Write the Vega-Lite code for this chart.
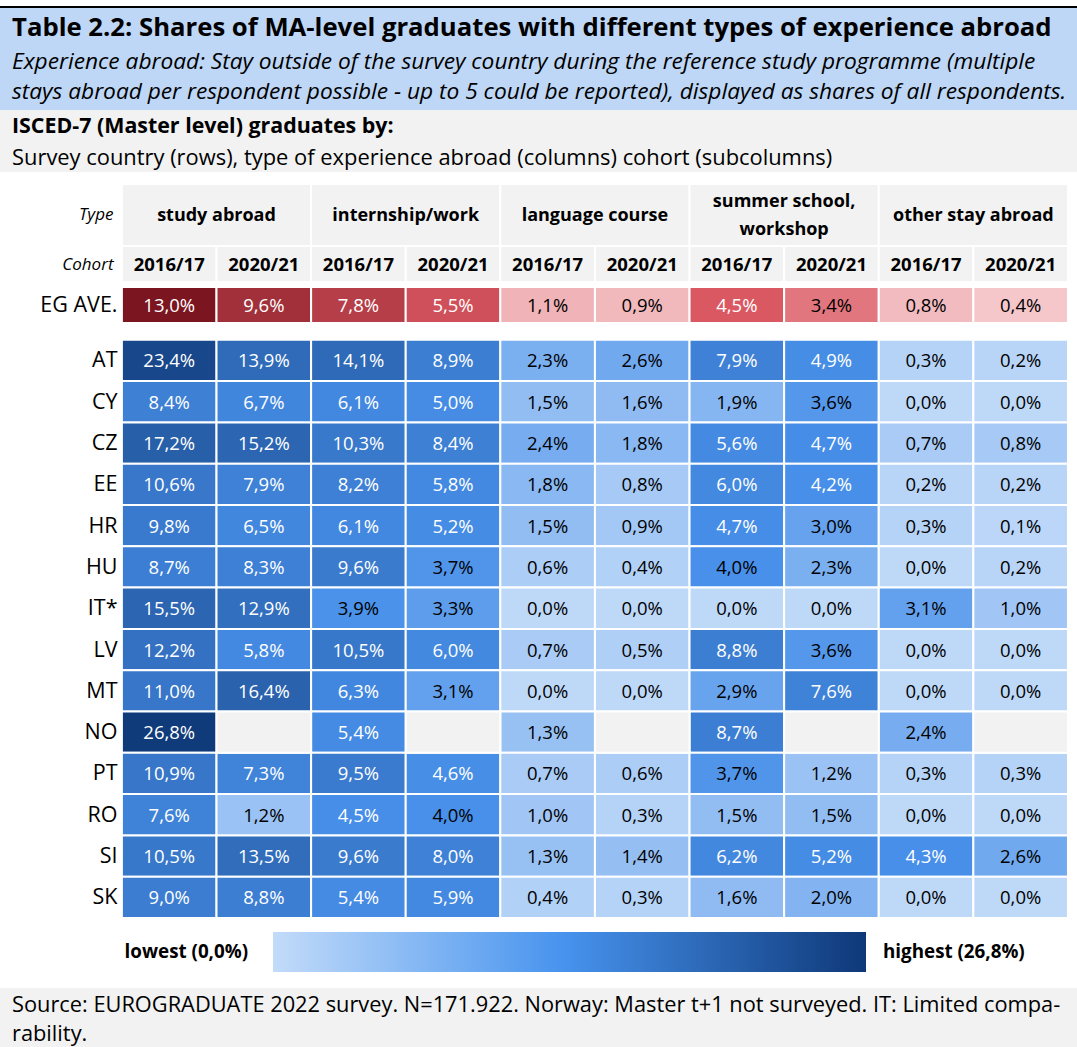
{
  "$schema": "https://vega.github.io/schema/vega-lite/v6.json",
  "padding": 0,
  "background": "white",
  "spacing": 0,
  "bounds": "flush",
  "config": {
    "view": {"stroke": null},
    "font": "Open Sans",
    "locale": {"number": {"decimal": ",", "thousands": ".", "grouping": [3], "currency": ["", "€"]}}
  },
  "resolve": {"scale": {"x": "independent", "y": "independent", "color": "independent", "fill": "independent", "xOffset": "independent"}},
  "datasets": {
    "eg": [
      {"c":"EG AVE.","t":"study abroad","k":"2016/17","v":0.130},{"c":"EG AVE.","t":"study abroad","k":"2020/21","v":0.096},
      {"c":"EG AVE.","t":"internship/work","k":"2016/17","v":0.078},{"c":"EG AVE.","t":"internship/work","k":"2020/21","v":0.055},
      {"c":"EG AVE.","t":"language course","k":"2016/17","v":0.011},{"c":"EG AVE.","t":"language course","k":"2020/21","v":0.009},
      {"c":"EG AVE.","t":"summer school, workshop","k":"2016/17","v":0.045},{"c":"EG AVE.","t":"summer school, workshop","k":"2020/21","v":0.034},
      {"c":"EG AVE.","t":"other stay abroad","k":"2016/17","v":0.008},{"c":"EG AVE.","t":"other stay abroad","k":"2020/21","v":0.004}
    ],
    "countries": [
      {"c":"AT","t":"study abroad","k":"2016/17","v":0.234},{"c":"AT","t":"study abroad","k":"2020/21","v":0.139},{"c":"AT","t":"internship/work","k":"2016/17","v":0.141},{"c":"AT","t":"internship/work","k":"2020/21","v":0.089},{"c":"AT","t":"language course","k":"2016/17","v":0.023},{"c":"AT","t":"language course","k":"2020/21","v":0.026},{"c":"AT","t":"summer school, workshop","k":"2016/17","v":0.079},{"c":"AT","t":"summer school, workshop","k":"2020/21","v":0.049},{"c":"AT","t":"other stay abroad","k":"2016/17","v":0.003},{"c":"AT","t":"other stay abroad","k":"2020/21","v":0.002},
      {"c":"CY","t":"study abroad","k":"2016/17","v":0.084},{"c":"CY","t":"study abroad","k":"2020/21","v":0.067},{"c":"CY","t":"internship/work","k":"2016/17","v":0.061},{"c":"CY","t":"internship/work","k":"2020/21","v":0.050},{"c":"CY","t":"language course","k":"2016/17","v":0.015},{"c":"CY","t":"language course","k":"2020/21","v":0.016},{"c":"CY","t":"summer school, workshop","k":"2016/17","v":0.019},{"c":"CY","t":"summer school, workshop","k":"2020/21","v":0.036},{"c":"CY","t":"other stay abroad","k":"2016/17","v":0.000},{"c":"CY","t":"other stay abroad","k":"2020/21","v":0.000},
      {"c":"CZ","t":"study abroad","k":"2016/17","v":0.172},{"c":"CZ","t":"study abroad","k":"2020/21","v":0.152},{"c":"CZ","t":"internship/work","k":"2016/17","v":0.103},{"c":"CZ","t":"internship/work","k":"2020/21","v":0.084},{"c":"CZ","t":"language course","k":"2016/17","v":0.024},{"c":"CZ","t":"language course","k":"2020/21","v":0.018},{"c":"CZ","t":"summer school, workshop","k":"2016/17","v":0.056},{"c":"CZ","t":"summer school, workshop","k":"2020/21","v":0.047},{"c":"CZ","t":"other stay abroad","k":"2016/17","v":0.007},{"c":"CZ","t":"other stay abroad","k":"2020/21","v":0.008},
      {"c":"EE","t":"study abroad","k":"2016/17","v":0.106},{"c":"EE","t":"study abroad","k":"2020/21","v":0.079},{"c":"EE","t":"internship/work","k":"2016/17","v":0.082},{"c":"EE","t":"internship/work","k":"2020/21","v":0.058},{"c":"EE","t":"language course","k":"2016/17","v":0.018},{"c":"EE","t":"language course","k":"2020/21","v":0.008},{"c":"EE","t":"summer school, workshop","k":"2016/17","v":0.060},{"c":"EE","t":"summer school, workshop","k":"2020/21","v":0.042},{"c":"EE","t":"other stay abroad","k":"2016/17","v":0.002},{"c":"EE","t":"other stay abroad","k":"2020/21","v":0.002},
      {"c":"HR","t":"study abroad","k":"2016/17","v":0.098},{"c":"HR","t":"study abroad","k":"2020/21","v":0.065},{"c":"HR","t":"internship/work","k":"2016/17","v":0.061},{"c":"HR","t":"internship/work","k":"2020/21","v":0.052},{"c":"HR","t":"language course","k":"2016/17","v":0.015},{"c":"HR","t":"language course","k":"2020/21","v":0.009},{"c":"HR","t":"summer school, workshop","k":"2016/17","v":0.047},{"c":"HR","t":"summer school, workshop","k":"2020/21","v":0.030},{"c":"HR","t":"other stay abroad","k":"2016/17","v":0.003},{"c":"HR","t":"other stay abroad","k":"2020/21","v":0.001},
      {"c":"HU","t":"study abroad","k":"2016/17","v":0.087},{"c":"HU","t":"study abroad","k":"2020/21","v":0.083},{"c":"HU","t":"internship/work","k":"2016/17","v":0.096},{"c":"HU","t":"internship/work","k":"2020/21","v":0.037},{"c":"HU","t":"language course","k":"2016/17","v":0.006},{"c":"HU","t":"language course","k":"2020/21","v":0.004},{"c":"HU","t":"summer school, workshop","k":"2016/17","v":0.040},{"c":"HU","t":"summer school, workshop","k":"2020/21","v":0.023},{"c":"HU","t":"other stay abroad","k":"2016/17","v":0.000},{"c":"HU","t":"other stay abroad","k":"2020/21","v":0.002},
      {"c":"IT*","t":"study abroad","k":"2016/17","v":0.155},{"c":"IT*","t":"study abroad","k":"2020/21","v":0.129},{"c":"IT*","t":"internship/work","k":"2016/17","v":0.039},{"c":"IT*","t":"internship/work","k":"2020/21","v":0.033},{"c":"IT*","t":"language course","k":"2016/17","v":0.000},{"c":"IT*","t":"language course","k":"2020/21","v":0.000},{"c":"IT*","t":"summer school, workshop","k":"2016/17","v":0.000},{"c":"IT*","t":"summer school, workshop","k":"2020/21","v":0.000},{"c":"IT*","t":"other stay abroad","k":"2016/17","v":0.031},{"c":"IT*","t":"other stay abroad","k":"2020/21","v":0.010},
      {"c":"LV","t":"study abroad","k":"2016/17","v":0.122},{"c":"LV","t":"study abroad","k":"2020/21","v":0.058},{"c":"LV","t":"internship/work","k":"2016/17","v":0.105},{"c":"LV","t":"internship/work","k":"2020/21","v":0.060},{"c":"LV","t":"language course","k":"2016/17","v":0.007},{"c":"LV","t":"language course","k":"2020/21","v":0.005},{"c":"LV","t":"summer school, workshop","k":"2016/17","v":0.088},{"c":"LV","t":"summer school, workshop","k":"2020/21","v":0.036},{"c":"LV","t":"other stay abroad","k":"2016/17","v":0.000},{"c":"LV","t":"other stay abroad","k":"2020/21","v":0.000},
      {"c":"MT","t":"study abroad","k":"2016/17","v":0.110},{"c":"MT","t":"study abroad","k":"2020/21","v":0.164},{"c":"MT","t":"internship/work","k":"2016/17","v":0.063},{"c":"MT","t":"internship/work","k":"2020/21","v":0.031},{"c":"MT","t":"language course","k":"2016/17","v":0.000},{"c":"MT","t":"language course","k":"2020/21","v":0.000},{"c":"MT","t":"summer school, workshop","k":"2016/17","v":0.029},{"c":"MT","t":"summer school, workshop","k":"2020/21","v":0.076},{"c":"MT","t":"other stay abroad","k":"2016/17","v":0.000},{"c":"MT","t":"other stay abroad","k":"2020/21","v":0.000},
      {"c":"NO","t":"study abroad","k":"2016/17","v":0.268},{"c":"NO","t":"study abroad","k":"2020/21","v":null},{"c":"NO","t":"internship/work","k":"2016/17","v":0.054},{"c":"NO","t":"internship/work","k":"2020/21","v":null},{"c":"NO","t":"language course","k":"2016/17","v":0.013},{"c":"NO","t":"language course","k":"2020/21","v":null},{"c":"NO","t":"summer school, workshop","k":"2016/17","v":0.087},{"c":"NO","t":"summer school, workshop","k":"2020/21","v":null},{"c":"NO","t":"other stay abroad","k":"2016/17","v":0.024},{"c":"NO","t":"other stay abroad","k":"2020/21","v":null},
      {"c":"PT","t":"study abroad","k":"2016/17","v":0.109},{"c":"PT","t":"study abroad","k":"2020/21","v":0.073},{"c":"PT","t":"internship/work","k":"2016/17","v":0.095},{"c":"PT","t":"internship/work","k":"2020/21","v":0.046},{"c":"PT","t":"language course","k":"2016/17","v":0.007},{"c":"PT","t":"language course","k":"2020/21","v":0.006},{"c":"PT","t":"summer school, workshop","k":"2016/17","v":0.037},{"c":"PT","t":"summer school, workshop","k":"2020/21","v":0.012},{"c":"PT","t":"other stay abroad","k":"2016/17","v":0.003},{"c":"PT","t":"other stay abroad","k":"2020/21","v":0.003},
      {"c":"RO","t":"study abroad","k":"2016/17","v":0.076},{"c":"RO","t":"study abroad","k":"2020/21","v":0.012},{"c":"RO","t":"internship/work","k":"2016/17","v":0.045},{"c":"RO","t":"internship/work","k":"2020/21","v":0.040},{"c":"RO","t":"language course","k":"2016/17","v":0.010},{"c":"RO","t":"language course","k":"2020/21","v":0.003},{"c":"RO","t":"summer school, workshop","k":"2016/17","v":0.015},{"c":"RO","t":"summer school, workshop","k":"2020/21","v":0.015},{"c":"RO","t":"other stay abroad","k":"2016/17","v":0.000},{"c":"RO","t":"other stay abroad","k":"2020/21","v":0.000},
      {"c":"SI","t":"study abroad","k":"2016/17","v":0.105},{"c":"SI","t":"study abroad","k":"2020/21","v":0.135},{"c":"SI","t":"internship/work","k":"2016/17","v":0.096},{"c":"SI","t":"internship/work","k":"2020/21","v":0.080},{"c":"SI","t":"language course","k":"2016/17","v":0.013},{"c":"SI","t":"language course","k":"2020/21","v":0.014},{"c":"SI","t":"summer school, workshop","k":"2016/17","v":0.062},{"c":"SI","t":"summer school, workshop","k":"2020/21","v":0.052},{"c":"SI","t":"other stay abroad","k":"2016/17","v":0.043},{"c":"SI","t":"other stay abroad","k":"2020/21","v":0.026},
      {"c":"SK","t":"study abroad","k":"2016/17","v":0.090},{"c":"SK","t":"study abroad","k":"2020/21","v":0.088},{"c":"SK","t":"internship/work","k":"2016/17","v":0.054},{"c":"SK","t":"internship/work","k":"2020/21","v":0.059},{"c":"SK","t":"language course","k":"2016/17","v":0.004},{"c":"SK","t":"language course","k":"2020/21","v":0.003},{"c":"SK","t":"summer school, workshop","k":"2016/17","v":0.016},{"c":"SK","t":"summer school, workshop","k":"2020/21","v":0.020},{"c":"SK","t":"other stay abroad","k":"2016/17","v":0.000},{"c":"SK","t":"other stay abroad","k":"2020/21","v":0.000}
    ]
  },
  "vconcat": [
    {
      "width": 1077, "height": 6, "view": {"fill": "white"},
      "data": {"values": []}, "mark": "rect", "encoding": {}
    },
    {
      "width": 1077, "height": 2, "view": {"fill": "black"},
      "data": {"values": []}, "mark": "rect", "encoding": {}
    },
    {
      "width": 1077, "height": 36, "view": {"fill": "#bed7f6"},
      "data": {"values": [{"line": "l1", "txt": "Table 2.2: Shares of MA-level graduates with different types of experience abroad"}]},
      "mark": {"type": "text", "align": "left", "baseline": "middle", "dx": 12, "dy": 2, "fontSize": 25.7, "fontWeight": "bold", "color": "black"},
      "encoding": {
        "x": {"datum": 0, "type": "quantitative", "scale": {"domain": [0, 1]}, "axis": null},
        "y": {"field": "line", "type": "nominal", "axis": null, "scale": {"type": "point", "padding": 0.5, "align": 0.5}},
        "text": {"field": "txt"}
      }
    },
    {
      "width": 1077, "height": 66, "view": {"fill": "#bed7f6"},
      "data": {"values": [
        {"line": "l1", "txt": "Experience abroad: Stay outside of the survey country during the reference study programme (multiple"},
        {"line": "l2", "txt": "stays abroad per respondent possible - up to 5 could be reported), displayed as shares of all respondents."}
      ]},
      "mark": {"type": "text", "align": "left", "baseline": "middle", "dx": 12, "dy": 0, "fontSize": 22.7, "fontStyle": "italic", "color": "black"},
      "encoding": {
        "x": {"datum": 0, "type": "quantitative", "scale": {"domain": [0, 1]}, "axis": null},
        "y": {"field": "line", "type": "nominal", "axis": null, "scale": {"type": "point", "padding": 0.6, "align": 0.5}},
        "text": {"field": "txt"}
      }
    },
    {
      "width": 1077, "height": 62, "view": {"fill": "#f2f2f2"},
      "layer": [
        {
          "data": {"values": [{"line": "l1", "txt": "ISCED-7 (Master level) graduates by:"}]},
          "mark": {"type": "text", "align": "left", "baseline": "middle", "dx": 12, "dy": 1, "fontSize": 21.4, "fontWeight": "bold", "color": "black"},
          "encoding": {
            "x": {"datum": 0, "type": "quantitative", "scale": {"domain": [0, 1]}, "axis": null},
            "y": {"field": "line", "type": "nominal", "axis": null, "scale": {"type": "point", "domain": ["l1", "l2"], "padding": 0.5, "align": 0.5}},
            "text": {"field": "txt"}
          }
        },
        {
          "data": {"values": [{"line": "l2", "txt": "Survey country (rows), type of experience abroad (columns) cohort (subcolumns)"}]},
          "mark": {"type": "text", "align": "left", "baseline": "middle", "dx": 12, "dy": 1, "fontSize": 21.9, "color": "black"},
          "encoding": {
            "x": {"datum": 0, "type": "quantitative", "scale": {"domain": [0, 1]}, "axis": null},
            "y": {"field": "line", "type": "nominal", "axis": null},
            "text": {"field": "txt"}
          }
        }
      ]
    },
    {
      "width": 1077, "height": 74, "view": {"fill": "white"},
      "data": {"values": [
        {"r": "Type", "t": "study abroad", "lab": "study abroad"},
        {"r": "Type", "t": "internship/work", "lab": "internship/work"},
        {"r": "Type", "t": "language course", "lab": "language course"},
        {"r": "Type", "t": "summer school, workshop", "lab": "summer school,\nworkshop"},
        {"r": "Type", "t": "other stay abroad", "lab": "other stay abroad"}
      ]},
      "encoding": {
        "x": {"field": "t", "type": "nominal", "sort": null, "axis": null,
              "scale": {"domain": ["study abroad", "internship/work", "language course", "summer school, workshop", "other stay abroad"], "paddingInner": 0, "paddingOuter": 0.346, "align": 0.931}},
        "y": {"field": "r", "type": "nominal",
              "scale": {"paddingInner": 0, "paddingOuter": 0.0968, "align": 1},
              "axis": {"title": null, "domain": false, "ticks": false, "offset": -122, "labelPadding": 9, "labelFontSize": 17, "labelFontStyle": "italic", "labelColor": "black", "labelFont": "Open Sans"}}
      },
      "layer": [
        {"mark": {"type": "rect", "fill": "#f2f2f2", "stroke": "white", "strokeWidth": 2}},
        {"transform": [{"filter": "indexof(datum.lab, '\\n') < 0"}],
         "mark": {"type": "text", "fontSize": 18, "fontWeight": "bold", "color": "black", "baseline": "middle", "dy": 1},
         "encoding": {"text": {"field": "lab"}}},
        {"transform": [{"filter": "indexof(datum.lab, '\\n') >= 0"}],
         "mark": {"type": "text", "fontSize": 18, "fontWeight": "bold", "color": "black", "lineBreak": "\n", "lineHeight": 28, "baseline": "middle", "dy": -13},
         "encoding": {"text": {"field": "lab"}}}
      ]
    },
    {
      "width": 1077, "height": 38, "view": {"fill": "white"},
      "data": {"values": [
        {"r": "Cohort", "t": "study abroad", "k": "2016/17"}, {"r": "Cohort", "t": "study abroad", "k": "2020/21"},
        {"r": "Cohort", "t": "internship/work", "k": "2016/17"}, {"r": "Cohort", "t": "internship/work", "k": "2020/21"},
        {"r": "Cohort", "t": "language course", "k": "2016/17"}, {"r": "Cohort", "t": "language course", "k": "2020/21"},
        {"r": "Cohort", "t": "summer school, workshop", "k": "2016/17"}, {"r": "Cohort", "t": "summer school, workshop", "k": "2020/21"},
        {"r": "Cohort", "t": "other stay abroad", "k": "2016/17"}, {"r": "Cohort", "t": "other stay abroad", "k": "2020/21"}
      ]},
      "encoding": {
        "x": {"field": "t", "type": "nominal", "sort": null, "axis": null,
              "scale": {"domain": ["study abroad", "internship/work", "language course", "summer school, workshop", "other stay abroad"], "paddingInner": 0, "paddingOuter": 0.346, "align": 0.931}},
        "xOffset": {"field": "k", "type": "nominal", "scale": {"domain": ["2016/17", "2020/21"], "paddingInner": 0, "paddingOuter": 0}},
        "y": {"field": "r", "type": "nominal",
              "scale": {"paddingInner": 0, "paddingOuter": 0.0278, "align": 0},
              "axis": {"title": null, "domain": false, "ticks": false, "offset": -122, "labelPadding": 9, "labelFontSize": 17, "labelFontStyle": "italic", "labelColor": "black", "labelFont": "Open Sans", "labelOffset": 1}}
      },
      "layer": [
        {"mark": {"type": "rect", "fill": "#f2f2f2", "stroke": "white", "strokeWidth": 2}},
        {"mark": {"type": "text", "fontSize": 18.5, "fontWeight": "bold", "color": "black", "baseline": "middle", "dy": 1},
         "encoding": {"text": {"field": "k"}}}
      ]
    },
    {
      "width": 1077, "height": 39, "view": {"fill": "white"},
      "data": {"name": "eg"},
      "encoding": {
        "x": {"field": "t", "type": "nominal", "sort": null, "axis": null,
              "scale": {"domain": ["study abroad", "internship/work", "language course", "summer school, workshop", "other stay abroad"], "paddingInner": 0, "paddingOuter": 0.346, "align": 0.931}},
        "xOffset": {"field": "k", "type": "nominal", "scale": {"domain": ["2016/17", "2020/21"], "paddingInner": 0, "paddingOuter": 0}},
        "y": {"field": "c", "type": "nominal",
              "scale": {"paddingInner": 0, "paddingOuter": 0.0417, "align": 1},
              "axis": {"title": null, "domain": false, "ticks": false, "offset": -122, "labelPadding": 5, "labelFontSize": 21.5, "labelColor": "black", "labelFont": "Open Sans", "labelOffset": 1}}
      },
      "layer": [
        {"mark": {"type": "rect", "stroke": "white", "strokeWidth": 2},
         "encoding": {"fill": {"field": "v", "type": "quantitative", "legend": null,
           "scale": {"domain": [0.004, 0.045, 0.13], "range": ["#f5c6ca", "#da5862", "#7b1520"], "interpolate": "rgb"}}}},
        {"mark": {"type": "text", "fontSize": 18.5, "baseline": "middle", "dy": 1},
         "encoding": {
           "text": {"field": "v", "type": "quantitative", "format": ".1%"},
           "color": {"condition": {"test": "datum.v >= 0.042", "value": "white"}, "value": "black"}}}
      ]
    },
    {
      "width": 1077, "height": 595, "view": {"fill": "white"},
      "data": {"name": "countries"},
      "encoding": {
        "x": {"field": "t", "type": "nominal", "sort": null, "axis": null,
              "scale": {"domain": ["study abroad", "internship/work", "language course", "summer school, workshop", "other stay abroad"], "paddingInner": 0, "paddingOuter": 0.346, "align": 0.931}},
        "xOffset": {"field": "k", "type": "nominal", "scale": {"domain": ["2016/17", "2020/21"], "paddingInner": 0, "paddingOuter": 0}},
        "y": {"field": "c", "type": "nominal", "sort": null,
              "scale": {"domain": ["AT","CY","CZ","EE","HR","HU","IT*","LV","MT","NO","PT","RO","SI","SK"], "paddingInner": 0, "paddingOuter": 0.2034, "align": 1},
              "axis": {"title": null, "domain": false, "ticks": false, "offset": -122, "labelPadding": 5, "labelFontSize": 21.5, "labelColor": "black", "labelFont": "Open Sans", "labelOffset": 1}}
      },
      "layer": [
        {"transform": [{"filter": "isValid(datum.v)"}],
         "mark": {"type": "rect", "stroke": "white", "strokeWidth": 2},
         "encoding": {"fill": {"field": "v", "type": "quantitative", "legend": null,
           "scale": {"domain": [0, 0.04, 0.268], "range": ["#bed8f8", "#4890ea", "#103b7a"], "interpolate": "rgb"}}}},
        {"transform": [{"filter": "!isValid(datum.v)"}],
         "mark": {"type": "rect", "fill": "#f2f2f2", "stroke": "white", "strokeWidth": 2}},
        {"transform": [{"filter": "isValid(datum.v)"}],
         "mark": {"type": "text", "fontSize": 18.5, "baseline": "middle", "dy": 1},
         "encoding": {
           "text": {"field": "v", "type": "quantitative", "format": ".1%"},
           "color": {"condition": {"test": "datum.v >= 0.042", "value": "white"}, "value": "black"}}}
      ]
    },
    {
      "width": 1077, "height": 70, "view": {"fill": "white"},
      "data": {"values": [{"r": "legend", "lo": 0, "hi": 0.268}]},
      "encoding": {
        "y": {"field": "r", "type": "nominal", "axis": null, "scale": {"domain": ["legend"], "paddingInner": 0, "paddingOuter": 0.375, "align": 0.467}}
      },
      "layer": [
        {"mark": {"type": "rect", "fill": {"gradient": "linear", "x1": 0, "y1": 0, "x2": 1, "y2": 0,
            "stops": [{"offset": 0, "color": "#c2dbf9"}, {"offset": 0.49, "color": "#4793ee"}, {"offset": 1, "color": "#0e3878"}]}},
         "encoding": {
           "x": {"field": "lo", "type": "quantitative", "axis": null, "scale": {"domain": [-0.12338, 0.36335], "nice": false, "zero": false}},
           "x2": {"field": "hi"}}},
        {"mark": {"type": "text", "align": "right", "baseline": "middle", "dx": -25, "fontSize": 18.8, "fontWeight": "bold", "color": "black"},
         "encoding": {"x": {"field": "lo", "type": "quantitative"}, "text": {"value": "lowest (0,0%)"}}},
        {"mark": {"type": "text", "align": "left", "baseline": "middle", "dx": 17, "fontSize": 18.8, "fontWeight": "bold", "color": "black"},
         "encoding": {"x": {"field": "hi", "type": "quantitative"}, "text": {"value": "highest (26,8%)"}}}
      ]
    },
    {
      "width": 1077, "height": 59, "view": {"fill": "#f2f2f2"},
      "data": {"values": [
        {"line": "l1", "txt": "Source: EUROGRADUATE 2022 survey. N=171.922. Norway: Master t+1 not surveyed. IT: Limited compa-"},
        {"line": "l2", "txt": "rability."}
      ]},
      "mark": {"type": "text", "align": "left", "baseline": "middle", "dx": 12, "dy": 2, "fontSize": 21.8, "color": "black"},
      "encoding": {
        "x": {"datum": 0, "type": "quantitative", "scale": {"domain": [0, 1]}, "axis": null},
        "y": {"field": "line", "type": "nominal", "axis": null, "scale": {"type": "point", "domain": ["l1", "l2"], "padding": 0.5, "align": 0.5}},
        "text": {"field": "txt"}
      }
    }
  ]
}
